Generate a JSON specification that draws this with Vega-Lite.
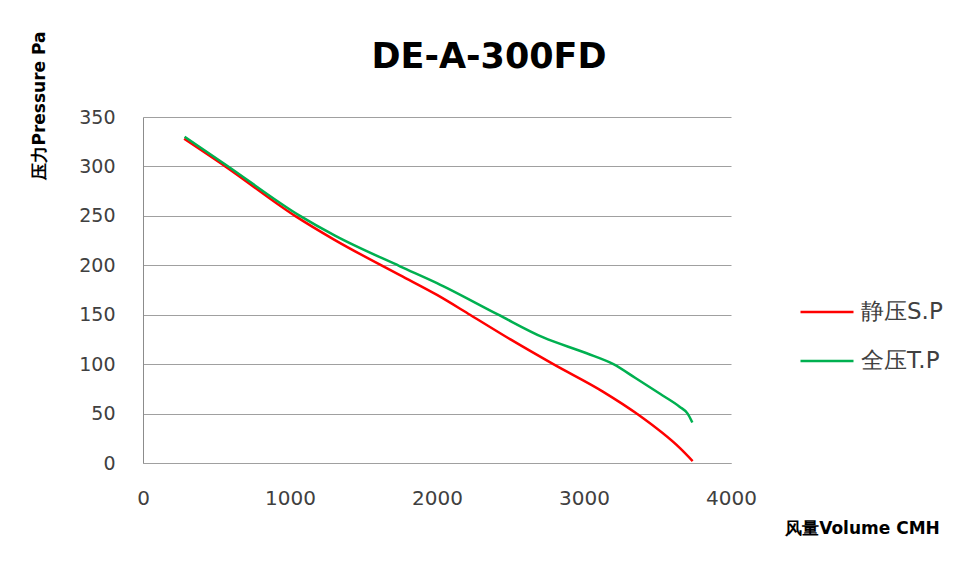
{
  "$schema": "https://vega.github.io/schema/vega-lite/v6.json",
  "width": 588,
  "height": 346,
  "autosize": {"type": "none"},
  "padding": {"left": 143, "top": 117, "right": 225, "bottom": 117},
  "background": "white",
  "title": {
    "text": "DE-A-300FD",
    "font": "DejaVu Sans",
    "fontSize": 35,
    "fontWeight": "bold",
    "color": "#000000",
    "anchor": "middle",
    "dx": 52,
    "offset": 0,
    "dy": 72,
    "baseline": "alphabetic"
  },
  "config": {
    "view": {"stroke": null},
    "font": "DejaVu Sans"
  },
  "data": {
    "values": [
      {"series": "静压S.P", "volume": 280, "pressure": 328},
      {"series": "静压S.P", "volume": 560, "pressure": 300},
      {"series": "静压S.P", "volume": 1034, "pressure": 250},
      {"series": "静压S.P", "volume": 1300, "pressure": 226},
      {"series": "静压S.P", "volume": 1748, "pressure": 190},
      {"series": "静压S.P", "volume": 2000, "pressure": 170},
      {"series": "静压S.P", "volume": 2224, "pressure": 150},
      {"series": "静压S.P", "volume": 2500, "pressure": 125},
      {"series": "静压S.P", "volume": 2791, "pressure": 100},
      {"series": "静压S.P", "volume": 3131, "pressure": 72},
      {"series": "静压S.P", "volume": 3358, "pressure": 50},
      {"series": "静压S.P", "volume": 3653, "pressure": 15},
      {"series": "静压S.P", "volume": 3739, "pressure": 2},
      {"series": "全压T.P", "volume": 283, "pressure": 330},
      {"series": "全压T.P", "volume": 560, "pressure": 302},
      {"series": "全压T.P", "volume": 1068, "pressure": 250},
      {"series": "全压T.P", "volume": 1306, "pressure": 230},
      {"series": "全压T.P", "volume": 1748, "pressure": 199},
      {"series": "全压T.P", "volume": 2000, "pressure": 182},
      {"series": "全压T.P", "volume": 2417, "pressure": 150},
      {"series": "全压T.P", "volume": 2723, "pressure": 127},
      {"series": "全压T.P", "volume": 3018, "pressure": 111},
      {"series": "全压T.P", "volume": 3200, "pressure": 100},
      {"series": "全压T.P", "volume": 3350, "pressure": 86},
      {"series": "全压T.P", "volume": 3517, "pressure": 70},
      {"series": "全压T.P", "volume": 3650, "pressure": 57},
      {"series": "全压T.P", "volume": 3705, "pressure": 50},
      {"series": "全压T.P", "volume": 3737, "pressure": 41}
    ]
  },
  "mark": {"type": "line", "interpolate": "monotone", "strokeWidth": 2.5},
  "encoding": {
    "x": {
      "field": "volume",
      "type": "quantitative",
      "scale": {"domain": [0, 4000], "nice": false, "zero": true},
      "axis": {
        "values": [0, 1000, 2000, 3000, 4000],
        "format": "d",
        "grid": false,
        "ticks": false,
        "domain": true,
        "domainColor": "#a0a0a0",
        "domainWidth": 1,
        "labelFont": "DejaVu Sans",
        "labelFontSize": 20,
        "labelColor": "#404040",
        "labelPadding": 25,
        "labelBaseline": "top",
        "labelFlush": false,
        "title": "风量Volume CMH",
        "titleFont": "DejaVu Sans",
        "titleFontSize": 17,
        "titleFontWeight": "bold",
        "titleColor": "#000000",
        "titleX": 719,
        "titleY": 65,
        "titleAlign": "center",
        "titleBaseline": "middle"
      }
    },
    "y": {
      "field": "pressure",
      "type": "quantitative",
      "scale": {"domain": [0, 350], "nice": false},
      "axis": {
        "values": [0, 50, 100, 150, 200, 250, 300, 350],
        "grid": true,
        "gridColor": "#a0a0a0",
        "gridWidth": 1,
        "ticks": false,
        "domain": true,
        "domainColor": "#8c8c8c",
        "domainWidth": 1,
        "labelFont": "DejaVu Sans",
        "labelFontSize": 19,
        "labelColor": "#404040",
        "labelPadding": 28,
        "labelFlush": false,
        "title": "压力Pressure Pa",
        "titleFont": "DejaVu Sans",
        "titleFontSize": 17,
        "titleFontWeight": "bold",
        "titleColor": "#000000",
        "titleAngle": -90,
        "titleX": -104,
        "titleY": -12,
        "titleAlign": "center",
        "titleBaseline": "middle"
      }
    },
    "color": {
      "field": "series",
      "type": "nominal",
      "scale": {"domain": ["静压S.P", "全压T.P"], "range": ["#ff0000", "#00b050"]},
      "legend": {
        "title": null,
        "orient": "none",
        "legendX": 656,
        "legendY": 167,
        "padding": 0,
        "symbolType": "stroke",
        "symbolSize": 2809,
        "symbolStrokeWidth": 2.5,
        "labelFont": "DejaVu Sans",
        "labelFontSize": 23,
        "labelColor": "#404040",
        "labelOffset": 6,
        "rowPadding": 9
      }
    }
  }
}
